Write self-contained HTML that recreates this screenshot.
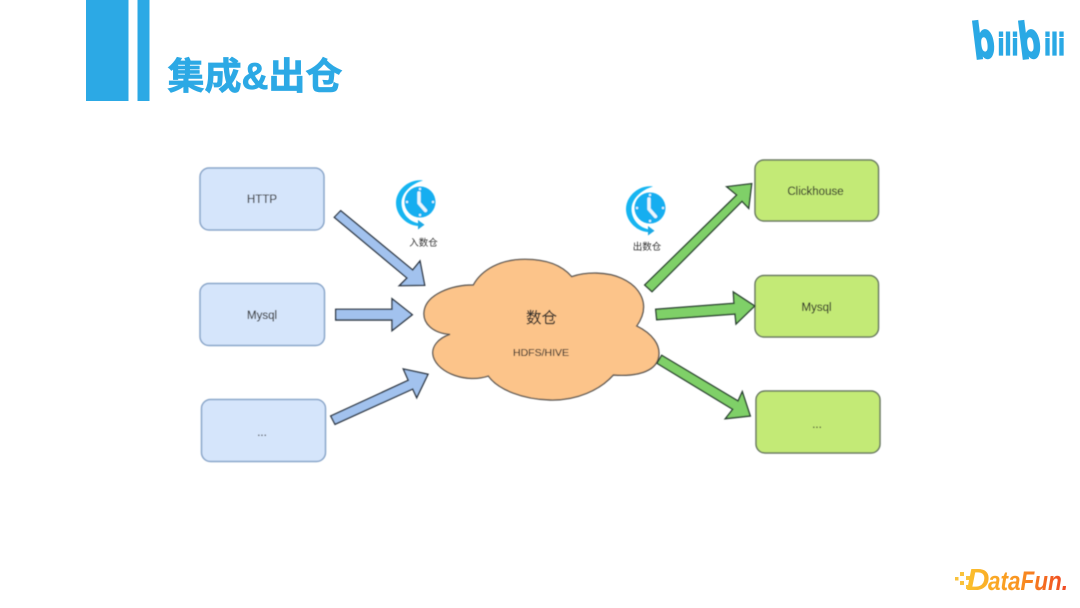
<!DOCTYPE html>
<html><head><meta charset="utf-8"><style>
html,body{margin:0;padding:0;background:#fff;width:1080px;height:608px;overflow:hidden}
svg{display:block}
text{font-family:"Liberation Sans","Noto Sans CJK SC",sans-serif;text-anchor:middle}
.l{font-size:11.5px;fill:#2a2a2a;stroke:#2a2a2a;stroke-width:.1px}
</style></head><body>
<svg width="1080" height="608" viewBox="0 0 1080 608" xmlns="http://www.w3.org/2000/svg">
<defs>
<filter id="b" x="-5%" y="-5%" width="110%" height="110%"><feGaussianBlur stdDeviation="0.4"/></filter>
<filter id="c" x="-5%" y="-20%" width="110%" height="140%"><feGaussianBlur stdDeviation="0.35"/></filter>
<linearGradient id="df" gradientUnits="userSpaceOnUse" x1="968" y1="0" x2="1068" y2="0">
<stop offset="0" stop-color="#FBC02D"/><stop offset=".5" stop-color="#F9931F"/><stop offset="1" stop-color="#EF4623"/>
</linearGradient>
<g id="clock">
<path d="M3,-21.5 C-11,-23.5 -24,-12 -24,1 C-24,14 -12,24.5 0,24 L0,21.5 C-10,20.5 -18.5,12 -18.5,1 C-18.5,-9 -9,-18 3,-21.5Z" fill="#19b5f1"/>
<path d="M-2,18 L4.5,22.8 L-2,27.5Z" fill="#1aa8e4"/>
<circle cx="0" cy="0" r="15.5" fill="#12aef0"/>
<path d="M-1,-9 L-1,1 L5.5,8.5" fill="none" stroke="#eaf8fe" stroke-width="3.4" stroke-linecap="round" stroke-linejoin="round"/>
<circle cx="0" cy="-13" r="1.2" fill="#dff4fd"/><circle cx="0" cy="13" r="1.2" fill="#dff4fd"/>
<circle cx="-13" cy="0" r="1.2" fill="#dff4fd"/><circle cx="13" cy="0" r="1.2" fill="#dff4fd"/>
</g>
</defs>

<rect x="86" y="0" width="42.5" height="101" fill="#2CA9E5"/>
<rect x="137.5" y="0" width="12" height="101" fill="#2CA9E5"/>
<text x="255" y="89" font-size="37" font-weight="700" fill="#2CA9E5" stroke="#2CA9E5" stroke-width=".7" textLength="175" lengthAdjust="spacingAndGlyphs">集成&amp;出仓</text>

<g fill="#2CA9E5" stroke="#2CA9E5" filter="url(#c)">
<text transform="translate(985.5 58) rotate(-7)" style="font-family:'DejaVu Sans',sans-serif" font-size="50" font-weight="700" stroke-width="1.6" textLength="22" lengthAdjust="spacingAndGlyphs">b</text>
<text x="1008" y="55" style="font-family:'DejaVu Sans',sans-serif" font-size="30" font-weight="700" stroke-width="1.1" textLength="21" lengthAdjust="spacingAndGlyphs">ili</text>
<text transform="translate(1031.5 58) rotate(-7)" style="font-family:'DejaVu Sans',sans-serif" font-size="50" font-weight="700" stroke-width="1.6" textLength="22" lengthAdjust="spacingAndGlyphs">b</text>
<text x="1054.5" y="55" style="font-family:'DejaVu Sans',sans-serif" font-size="30" font-weight="700" stroke-width="1.1" textLength="21" lengthAdjust="spacingAndGlyphs">ili</text>
</g>

<g fill="#F9C23C">
<rect x="955" y="577" width="3.5" height="3.5"/><rect x="960" y="572" width="4" height="4"/><rect x="960" y="581" width="4" height="4"/><rect x="966" y="576" width="4" height="4"/><rect x="966" y="585" width="4" height="4"/>
</g>
<text x="978" y="590" font-size="31" font-weight="700" font-style="italic" fill="url(#df)" textLength="23" lengthAdjust="spacingAndGlyphs">D</text>
<text x="1028" y="590" font-size="27" font-weight="700" font-style="italic" fill="url(#df)" textLength="80" lengthAdjust="spacingAndGlyphs">ataFun.</text>

<g filter="url(#b)">
<g fill="#D5E5FB" stroke="#88A5C9" stroke-width="1.5">
<rect x="200" y="168" width="124" height="62" rx="9"/>
<rect x="200" y="283.5" width="124.5" height="62" rx="9"/>
<rect x="201.5" y="399.5" width="124" height="62" rx="9"/>
</g>
<g fill="#C3EA76" stroke="#687860" stroke-width="1.5">
<rect x="755" y="160" width="123.5" height="61" rx="9"/>
<rect x="755" y="275.5" width="123.5" height="61.5" rx="9"/>
<rect x="756" y="391" width="124" height="62" rx="9"/>
</g>

<g fill="#A2C2EE" stroke="#2E3844" stroke-width="1.4" stroke-linejoin="miter">
<polygon points="334.3,217.3 340.7,210.7 412.7,270 420,261 424.7,285.3 399.3,285.7 407,278"/>
<polygon points="335.7,309.3 392,309.3 392,298.7 412.3,314.7 392,330.7 392,320 335.7,320"/>
<polygon points="330.7,416 408.3,380.3 403.3,369 428,374.3 416.7,397.7 412.7,389 335,424.3"/>
</g>

<path transform="translate(410 250) scale(.33333)" fill="#FCC48A" stroke="#5E5A54" stroke-width="4.2" d="M190,105 C215,60 270,28 345,28 C410,28 455,45 485,80 C530,65 590,65 635,85 C690,110 725,165 680,228 C725,250 755,285 745,325 C735,365 680,380 610,375 C570,420 500,452 420,450 C340,448 265,420 235,378 C170,400 85,370 70,320 C62,290 85,265 120,253 C70,250 35,220 43,180 C52,135 120,105 190,105 Z"/>

<g fill="#7FD068" stroke="#2A4230" stroke-width="1.4">
<polygon points="644.7,285 652,291.7 742,201.3 748.7,208.3 751.7,183.7 726.7,186.7 736.7,195"/>
<polygon points="655.7,309.3 656.7,319.7 735,314 736,324 754.7,306 733.3,292 734,303.3"/>
<polygon points="661.7,355.3 657,363.3 732.7,409.3 725.3,418.7 750.3,416 742.3,391.7 738,401"/>
</g>

<use href="#clock" x="420" y="202"/>
<use href="#clock" x="650" y="208"/>

<text class="l" x="262" y="203">HTTP</text>
<text class="l" x="262" y="319">Mysql</text>
<text class="l" x="262" y="436">...</text>
<text class="l" x="815.5" y="195">Clickhouse</text>
<text class="l" x="816.5" y="311">Mysql</text>
<text class="l" x="817" y="428">...</text>
<text x="541.5" y="323" font-size="15.5" fill="#2a2a2a" stroke="#2a2a2a" stroke-width=".15">数仓</text>
<text x="541" y="356" font-size="10.5" fill="#2a2a2a" stroke="#2a2a2a" stroke-width=".1">HDFS/HIVE</text>
<text x="423.5" y="246" font-size="9.5" fill="#333">入数仓</text>
<text x="647" y="250" font-size="9.5" fill="#333">出数仓</text>
</g>
</svg>
</body></html>
